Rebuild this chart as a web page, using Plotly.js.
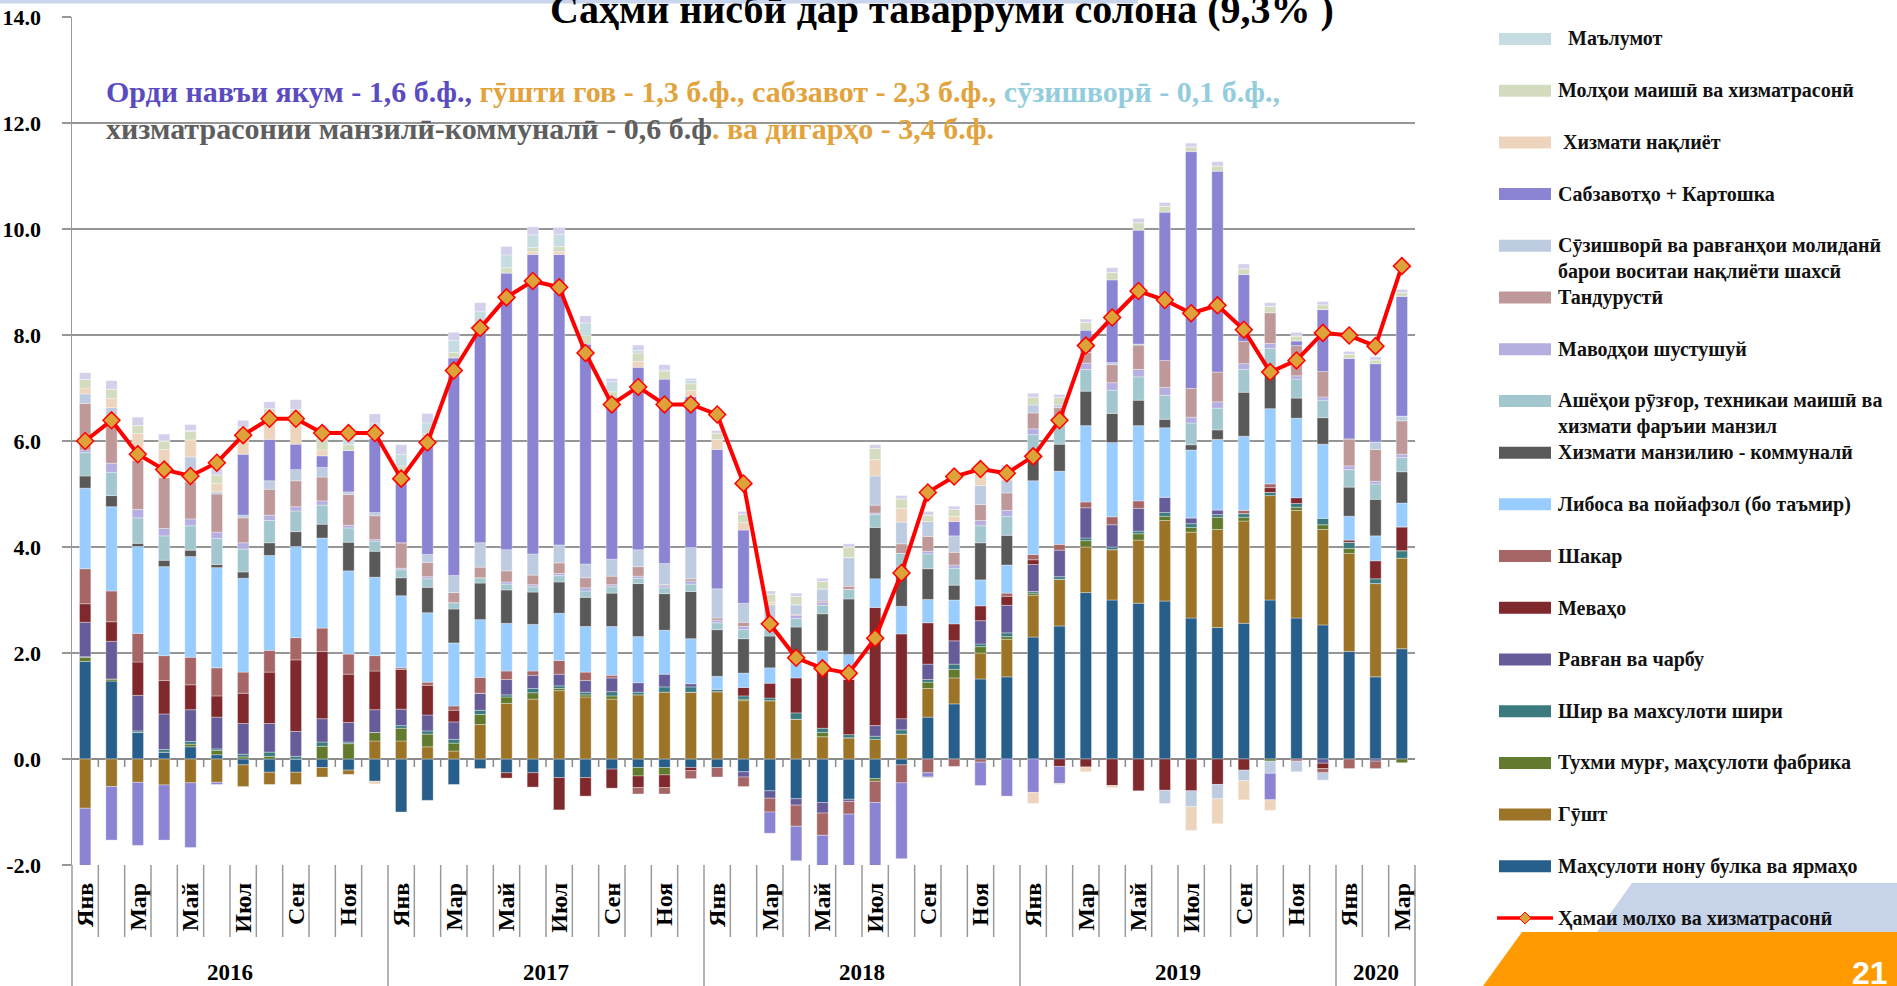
<!DOCTYPE html>
<html>
<head>
<meta charset="utf-8">
<script src="https://cdn.plot.ly/plotly-3.0.1.min.js"></script>
<style>
  html, body { margin: 0; padding: 0; background: #ffffff; }
  #chart { width: 1897px; height: 986px; }
</style>
</head>
<body>
<div id="chart"></div>
<script>
// ---------------- DATA ----------------
const monthNames = ['Янв','Фев','Мар','Апр','Май','Июн','Июл','Авг','Сен','Окт','Ноя','Дек'];
const years = ['2016','2017','2018','2019','2020'];
const monthsPerYear = [12, 12, 12, 12, 3];
const yTickValues = [-2, 0, 2, 4, 6, 8, 10, 12, 14];
const yTickLabels = ['-2.0','0.0','2.0','4.0','6.0','8.0','10.0','12.0','14.0'];

// bottom of stack first
const bread   = [1.84,1.47,0.5,0.13,0.23,0.08,-0.11,-0.25,-0.25,-0.16,-0.21,-0.42,
  -1.0,-0.78,-0.48,-0.18,-0.26,-0.26,-0.35,-0.35,-0.19,-0.16,-0.16,-0.16,
  -0.16,-0.24,-0.6,-0.75,-0.82,-0.76,-0.37,-0.11,0.79,1.04,1.51,1.55,
  2.3,2.51,3.14,3.0,2.94,2.98,2.66,2.48,2.56,3.0,2.66,2.53,
  2.03,1.55,2.08];
const meat    = [-0.93,-0.52,-0.44,-0.49,-0.45,-0.44,-0.41,-0.23,-0.23,-0.18,-0.08,0.34,
  0.34,0.23,0.15,0.65,1.05,1.13,1.29,1.17,1.13,1.21,1.26,1.26,
  1.27,1.1,1.1,0.75,0.42,0.4,0.37,0.47,0.54,0.49,0.49,0.71,
  0.79,0.88,0.86,0.95,1.19,1.52,1.62,1.85,1.93,1.97,2.03,1.8,
  1.85,1.76,1.71];
const eggs    = [0.08,0.04,0,0,0.05,0.08,0.04,0.05,0,0.24,0.29,0.16,
  0.24,0.24,0.15,0.19,0.12,0.12,0.04,0.04,0.06,-0.16,-0.14,0,
  0,0.03,0,0,0.08,0,-0.05,0,0.12,0.16,0.12,0.05,
  0.04,0,0.12,0,0.12,0.08,0.09,0.23,0.07,-0.04,0.06,0.09,
  0.09,0,-0.07];
const milk    = [0.01,0,0.03,0.05,0.05,0.03,0.05,0.08,0.05,0.08,0.03,0,
  0.05,0.06,0.07,0.08,0.04,0.08,0.05,0.05,0.08,0.05,0.1,0.1,
  0.05,0.06,0.05,0.12,0.08,0.06,0.06,0.08,0.05,0.1,0.05,0.07,
  0.03,0.05,0.05,0.05,0.05,0.07,0.07,0.05,0.07,0.06,0.07,0.12,
  0.12,0.09,0.14];
const oil     = [0.65,0.71,0.67,0.67,0.6,0.6,0.58,0.54,0.47,0.44,0.37,0.43,
  0.31,0.3,0.33,0.32,0.29,0.25,0.22,0.22,0.26,0.18,0.24,0.06,
  0,-0.1,-0.14,-0.12,-0.2,-0.04,0.2,0.21,0.29,0.44,0.44,0.52,
  0.51,0.5,0.57,0.42,0.43,0.29,0.11,0.09,0,0,0,-0.08,
  0,-0.04,0];
const fruit   = [0.35,0.37,0.63,0.63,0.47,0.4,0.57,0.97,1.35,1.27,0.91,0.73,
  0.75,0.56,0.22,0,-0.1,-0.27,-0.61,-0.35,-0.36,-0.22,-0.24,-0.06,
  0,0.16,0.28,0.66,1.1,1.04,2.23,1.6,0.78,0.32,0.28,0.17,
  0.09,-0.14,-0.15,-0.5,-0.6,-0.59,-0.6,-0.48,-0.21,0.09,0.11,-0.1,
  0.04,0.34,0.45];
const sugar   = [0.66,0.58,0.54,0.47,0.52,0.53,0.4,0.41,0.42,0.44,0.38,0.29,
  0.03,0.06,0.08,0.3,0.16,0.08,0.26,0.16,0.05,-0.12,-0.12,-0.15,
  -0.18,-0.18,-0.26,-0.4,-0.42,-0.24,-0.4,-0.34,-0.26,-0.14,-0.06,0.06,
  0.1,0.11,0.11,0.15,0.14,0,0,0,0.06,0.07,-0.04,-0.08,
  -0.18,-0.14,0];
const clothes = [1.52,1.59,1.64,1.68,1.9,1.89,1.77,1.79,1.72,1.7,1.57,1.48,
  1.36,1.31,1.19,1.09,0.9,0.88,0.89,0.86,0.92,0.87,0.83,0.85,
  0.24,0.27,0.29,0.29,0.36,0.47,0.54,0.52,0.44,0.45,0.49,0.53,
  1.39,1.38,1.44,1.4,1.42,1.31,1.28,1.33,1.4,1.42,1.5,1.4,
  0.45,0.47,0.45];
const utilities = [0.23,0.21,0.06,0.12,0.12,0.06,0.12,0.24,0.28,0.26,0.54,0.49,
  0.34,0.48,0.64,0.69,0.63,0.61,0.59,0.55,0.63,1.0,0.69,0.89,
  0.88,0.65,0.6,0.67,0.7,1.05,0.97,0.74,0.58,0.28,0.7,0.56,
  0.45,0.51,0.65,0.55,0.48,0.16,0.1,0.18,0.83,0.69,0.38,0.5,
  0.55,0.69,0.59];
const household = [0.44,0.44,0.48,0.46,0.46,0.49,0.43,0.42,0.39,0.36,0.27,0.19,
  0.15,0.16,0.12,0.1,0.11,0.1,0.12,0.12,0.12,0.1,0.11,0.14,
  0.13,0.17,0.13,0.16,0.16,0.18,0.24,0.26,0.28,0.32,0.32,0.36,
  0.42,0.39,0.41,0.44,0.44,0.45,0.41,0.41,0.43,0.45,0.36,0.33,
  0.33,0.29,0.27];
const detergents = [0.05,0.17,0.16,0.14,0.13,0.12,0.12,0.1,0.08,0.08,0.05,0.03,
  0.03,0.04,0,0,0.04,0.04,0.04,0.06,0.04,0.04,0.04,0.06,
  0.05,0.06,0.05,0.06,0.05,0,0.03,0,0.05,0.06,0.1,0.11,
  0.11,0.06,0.12,0.14,0.14,0.15,0.11,0.12,0.11,0.09,0.06,0.06,
  0.07,0.05,0.06];
const health  = [0.88,0.87,0.93,0.96,0.7,0.72,0.47,0.49,0.49,0.45,0.58,0.45,
  0.48,0.27,0.19,0.2,0.21,0.18,0.2,0.19,0.16,0.18,0.02,0.04,
  0.04,0.08,0.03,0.02,0.03,0.06,0.15,0.18,0.28,0.24,0.3,0.33,
  0.3,0.24,0.2,0.34,0.46,0.51,0.54,0.56,0.42,0.58,0.57,0.48,
  0.51,0.6,0.63];
const fuel    = [0.18,0.18,0,0,0.47,0.04,0.05,0.16,0.21,0.18,0.05,0.06,
  0,0.15,0.32,0.46,0.4,0.4,0.34,0.26,0.32,0.32,0.4,0.59,
  0.55,0.36,0.38,0.18,0.23,0.54,0.55,0.41,0.28,0.31,0.36,0.25,
  0.15,0.05,0,0.04,0.02,-0.25,-0.3,-0.27,-0.2,-0.23,-0.2,-0.14,
  0,0.14,0.09];
const vegetables = [-1.08,-1.01,-1.19,-1.04,-1.22,-0.04,1.15,0.78,0.48,0.22,0.78,1.4,
  1.35,2.08,4.11,4.02,5.22,5.65,5.48,4.15,3.06,3.44,3.48,2.85,
  2.63,1.38,-0.4,-0.65,-0.6,-1.0,-1.19,-1.43,-0.08,0.27,-0.44,-0.7,
  -0.63,-0.32,0.42,1.56,2.15,2.8,4.47,3.79,1.26,-0.5,0.09,1.17,
  1.52,1.48,2.26];
const transport = [0.11,0.17,0.5,0.53,0.32,0.16,0.39,0.44,0.52,0.11,0,-0.05,
  0,0,0,0,0,0.05,0.05,0,0,0.11,0,0.11,
  0.19,0.14,0.05,0,0,0,0.31,0.26,-0.02,0.1,0.23,0,
  -0.21,-0.02,-0.09,-0.04,0,0,-0.45,-0.47,-0.36,-0.2,0,0,
  0,0,0];
const consumer = [0.16,0.18,0.15,0.16,0.16,0.16,0.12,0.14,0.14,0.3,0.11,0,
  0.1,0.2,0.1,0.1,0.1,0.08,0.1,0.16,0.1,0.16,0.15,0.13,
  0.12,0.16,0.15,0.16,0.14,0.2,0.21,0.18,0.12,0.13,0.13,0.1,
  0.15,0.14,0.15,0.14,0.14,0.11,0.09,0.1,0.11,0.12,0.09,0.09,
  0.08,0.07,0.07];
const info    = [0,0,0,0,0.02,0,0,0,0,0.05,0.12,0.29,
  0.22,0.2,0.23,0.25,0.24,0.24,0.23,0.24,0.19,0.05,0.02,0.06,
  0,0,0,0,0,0,0,0,0,0,0,0.1,
  0,0,0,0,0,0,0,0,0,0,0,0,
  0,0,0];
const other   = [0.13,0.16,0.16,0.13,0.11,0.12,0.13,0.13,0.18,0.1,0.13,0.17,
  0.18,0.18,0.15,0.16,0.16,0.15,0.13,0.13,0.06,0.1,0.1,0.04,
  0.05,0.05,0.06,0.06,0.06,0.06,0.07,0.06,0.07,0.06,0.03,0.07,
  0.07,0.06,0.06,0.09,0.08,0.07,0.07,0.08,0.09,0.07,0.07,0.06,
  0.05,0.06,0.06];
const totalInflation = [6.0,6.39,5.75,5.46,5.34,5.59,6.11,6.42,6.42,6.15,6.15,6.15,
  5.29,5.97,7.33,8.13,8.71,9.02,8.9,7.66,6.69,7.02,6.69,6.69,
  6.5,5.2,2.55,1.91,1.71,1.62,2.28,3.51,5.03,5.33,5.47,5.39,
  5.71,6.39,7.8,8.33,8.83,8.66,8.41,8.56,8.1,7.3,7.52,8.04,
  7.99,7.79,9.3];

// category labels built from the month / year lists
const categories = [];
years.forEach((yr, yi) => {
  for (let m = 0; m < monthsPerYear[yi]; m++) categories.push(monthNames[m] + ' ' + yr);
});
const labelledCats = categories.filter((c, i) => i % 2 === 0);
const labelledText = labelledCats.map(c => c.split(' ')[0]);

const series = [
  {name: 'Маҳсулоти нону булка ва ярмаҳо', values: bread, color: '#275E8A'},
  {name: 'Гӯшт', values: meat, color: '#9C7428'},
  {name: 'Тухми мурғ, маҳсулоти фабрика', values: eggs, color: '#617A2E'},
  {name: 'Шир ва махсулоти шири', values: milk, color: '#3B7B80'},
  {name: 'Равған ва чарбу', values: oil, color: '#665C99'},
  {name: 'Меваҳо', values: fruit, color: '#80292D'},
  {name: 'Шакар', values: sugar, color: '#A66665'},
  {name: 'Либоса ва пойафзол (бо таъмир)', values: clothes, color: '#99CCFF'},
  {name: 'Хизмати манзилию - коммуналӣ', values: utilities, color: '#595959'},
  {name: 'Ашёҳои рӯзғор, техникаи маишӣ ва<br>хизмати фаръии манзил', values: household, color: '#A3C7CE'},
  {name: 'Маводҳои шустушуй', values: detergents, color: '#B4AFE0'},
  {name: 'Тандурустӣ', values: health, color: '#BF9999'},
  {name: 'Сӯзишворӣ ва равғанҳои молиданӣ<br>барои воситаи нақлиёти шахсӣ', values: fuel, color: '#BDCCE0'},
  {name: 'Сабзавотҳо + Картошка', values: vegetables, color: '#8A84D3'},
  {name: '\u00a0Хизмати нақлиёт', values: transport, color: '#EDD5BD'},
  {name: 'Молҳои маишӣ ва хизматрасонӣ', values: consumer, color: '#D4DCBF'},
  {name: '\u00a0\u00a0Маълумот', values: info, color: '#C5DCE0'},
  {name: '', values: other, color: '#D3D0EB', hidden: true}
];
const lineName = 'Ҳамаи молхо ва хизматрасонӣ';

// ---------------- GEOMETRY HELPERS (layout only) ----------------
const W = 1897, H = 986, PL = 72, PR = 1415, PT = 17, PB = 865;
const px = v => (v - PL) / (PR - PL);
const py = v => (PB - v) / (PB - PT);
const SERIF = 'Liberation Serif, Times New Roman, serif';

const traces = series.map(s => ({
  type: 'bar', name: s.name.replace('<br>', ' '), x: categories, y: s.values,
  marker: {color: s.color, line: {color: 'rgba(255,255,255,0.55)', width: 0.6}},
  showlegend: false, hoverinfo: 'x+y+name'
}));
traces.push({
  type: 'scatter', mode: 'lines+markers', name: lineName, x: categories, y: totalInflation,
  line: {color: '#FF0000', width: 4},
  marker: {symbol: 'diamond', size: 13, color: '#DDA33A', line: {color: '#FF0000', width: 1.5}},
  showlegend: false
});

const shapes = [];
const annotations = [];
const nCat = categories.length;

// top decorative band
shapes.push({type: 'rect', xref: 'paper', yref: 'paper', x0: px(0), x1: px(1138), y0: py(0), y1: py(3.5),
  fillcolor: '#C8D5EA', line: {width: 0}, layer: 'below'});

// category dividers below the axis, year dividers longer
const yearStarts = [0];
monthsPerYear.forEach((c, i) => yearStarts.push(yearStarts[i] + c));
for (let k = 0; k <= nCat; k++) {
  const isYear = yearStarts.includes(k);
  shapes.push({type: 'line', xref: 'paper', yref: 'paper', x0: k / nCat, x1: k / nCat,
    y0: 0, y1: py(isYear ? 986 : 937), line: {color: '#9A9A9A', width: 1.5}});
  if (k > 0 && k < nCat) {
    shapes.push({type: 'line', xref: 'paper', yref: 'y', x0: k / nCat, x1: k / nCat,
      y0: 0, y1: -0.15, line: {color: '#8A8A8A', width: 1.5}});
  }
}

// year labels
years.forEach((yr, i) => {
  annotations.push({xref: 'paper', yref: 'paper', x: (yearStarts[i] + monthsPerYear[i] / 2) / nCat,
    y: py(973), text: yr, showarrow: false, xanchor: 'center', yanchor: 'middle',
    font: {family: SERIF, size: 23, weight: 700, color: '#000'}});
});

// inner explanatory text
annotations.push({xref: 'paper', yref: 'paper', x: px(104), y: py(91), xanchor: 'left', yanchor: 'middle',
  showarrow: false, font: {family: SERIF, size: 30, weight: 700},
  text: '<span style="color:#5A4CC0">Орди навъи якум - 1,6 б.ф., </span>' +
        '<span style="color:#E2A33C">гӯшти гов - 1,3 б.ф., сабзавот - 2,3 б.ф., </span>' +
        '<span style="color:#93CDDD">сӯзишворӣ - 0,1 б.ф.,</span>'});
annotations.push({xref: 'paper', yref: 'paper', x: px(104), y: py(128), xanchor: 'left', yanchor: 'middle',
  showarrow: false, font: {family: SERIF, size: 30, weight: 700},
  text: '<span style="color:#5E5E5E">хизматрасонии манзилӣ-коммуналӣ - 0,6 б.ф</span>' +
        '<span style="color:#E2A33C">. ва дигарҳо - 3,4 б.ф.</span>'});

// custom legend (top entry = top of stack)
const legendItems = series.filter(s => !s.hidden).slice().reverse();
const legTop = 39, legStep = (918 - 39) / legendItems.length;
legendItems.forEach((s, i) => {
  const cy = legTop + i * legStep;
  shapes.push({type: 'rect', xref: 'paper', yref: 'paper', x0: px(1499), x1: px(1551),
    y0: py(cy - 6), y1: py(cy + 6), fillcolor: s.color, line: {width: 0}});
  const twoLines = s.name.includes('<br>');
  annotations.push({xref: 'paper', yref: 'paper', x: px(1556), y: py(twoLines ? cy + 13 : cy),
    xanchor: 'left', yanchor: 'middle', align: 'left', showarrow: false, text: s.name,
    font: {family: SERIF, size: 20, weight: 700, color: '#111'}});
});
const lineY = legTop + legendItems.length * legStep;

// bottom-right decoration
shapes.push({type: 'path', xref: 'paper', yref: 'paper', layer: 'below',
  path: `M ${px(1632)} ${py(883)} L ${px(1897)} ${py(883)} L ${px(1897)} ${py(932)} L ${px(1597)} ${py(932)} Z`,
  fillcolor: '#C6D3E8', line: {width: 0}});
shapes.push({type: 'path', xref: 'paper', yref: 'paper', layer: 'below',
  path: `M ${px(1522)} ${py(932)} L ${px(1897)} ${py(932)} L ${px(1897)} ${py(986)} L ${px(1483)} ${py(986)} Z`,
  fillcolor: '#FF9A00', line: {width: 0}});

// legend entry for the line
shapes.push({type: 'line', xref: 'paper', yref: 'paper', x0: px(1497), x1: px(1553), y0: py(lineY), y1: py(lineY),
  line: {color: '#FF0000', width: 3.5}});
shapes.push({type: 'path', xref: 'paper', yref: 'paper',
  path: `M ${px(1525)} ${py(lineY - 6)} L ${px(1531)} ${py(lineY)} L ${px(1525)} ${py(lineY + 6)} L ${px(1519)} ${py(lineY)} Z`,
  fillcolor: '#DDA33A', line: {color: '#FF0000', width: 1}});
annotations.push({xref: 'paper', yref: 'paper', x: px(1556), y: py(lineY), xanchor: 'left', yanchor: 'middle',
  showarrow: false, text: lineName, font: {family: SERIF, size: 20, weight: 700, color: '#111'}});

// page number
annotations.push({xref: 'paper', yref: 'paper', x: px(1890), y: py(973), xanchor: 'right', yanchor: 'middle',
  showarrow: false, text: '21', font: {family: 'Liberation Sans, Arial, sans-serif', size: 32, weight: 700, color: '#FFFFFF'}});

const layout = {
  width: W, height: H,
  margin: {l: PL, r: W - PR, t: PT, b: H - PB, pad: 0},
  paper_bgcolor: '#FFFFFF', plot_bgcolor: '#FFFFFF',
  barmode: 'relative', bargap: 0.57,
  showlegend: false,
  title: {text: 'Саҳми нисбӣ дар таварруми солона (9,3% )', xref: 'container', yref: 'container',
    x: 942 / W, xanchor: 'center', y: 1 - 9 / H, yanchor: 'middle',
    font: {family: SERIF, size: 40, weight: 700, color: '#000'}},
  xaxis: {type: 'category', categoryorder: 'array', categoryarray: categories,
    range: [-0.5, nCat - 0.5], tickmode: 'array', tickvals: labelledCats, ticktext: labelledText,
    tickangle: -90, ticks: '', showgrid: false, zeroline: false, showline: false,
    tickfont: {family: SERIF, size: 24, weight: 700, color: '#000'}, ticklabelstandoff: 12, fixedrange: true},
  yaxis: {range: [-2, 14], tickmode: 'array', tickvals: yTickValues, ticktext: yTickLabels,
    showgrid: true, gridcolor: '#969696', gridwidth: 2,
    zeroline: true, zerolinecolor: '#8C8C8C', zerolinewidth: 2,
    showline: true, linecolor: '#9A9A9A', linewidth: 1.5,
    ticks: 'outside', ticklen: 9, tickcolor: '#969696', tickwidth: 1.5,
    tickfont: {family: SERIF, size: 22, weight: 700, color: '#000'}, ticklabelstandoff: 16, fixedrange: true},
  shapes: shapes,
  annotations: annotations
};

Plotly.newPlot('chart', traces, layout, {displayModeBar: false, staticPlot: true});
</script>
</body>
</html>
